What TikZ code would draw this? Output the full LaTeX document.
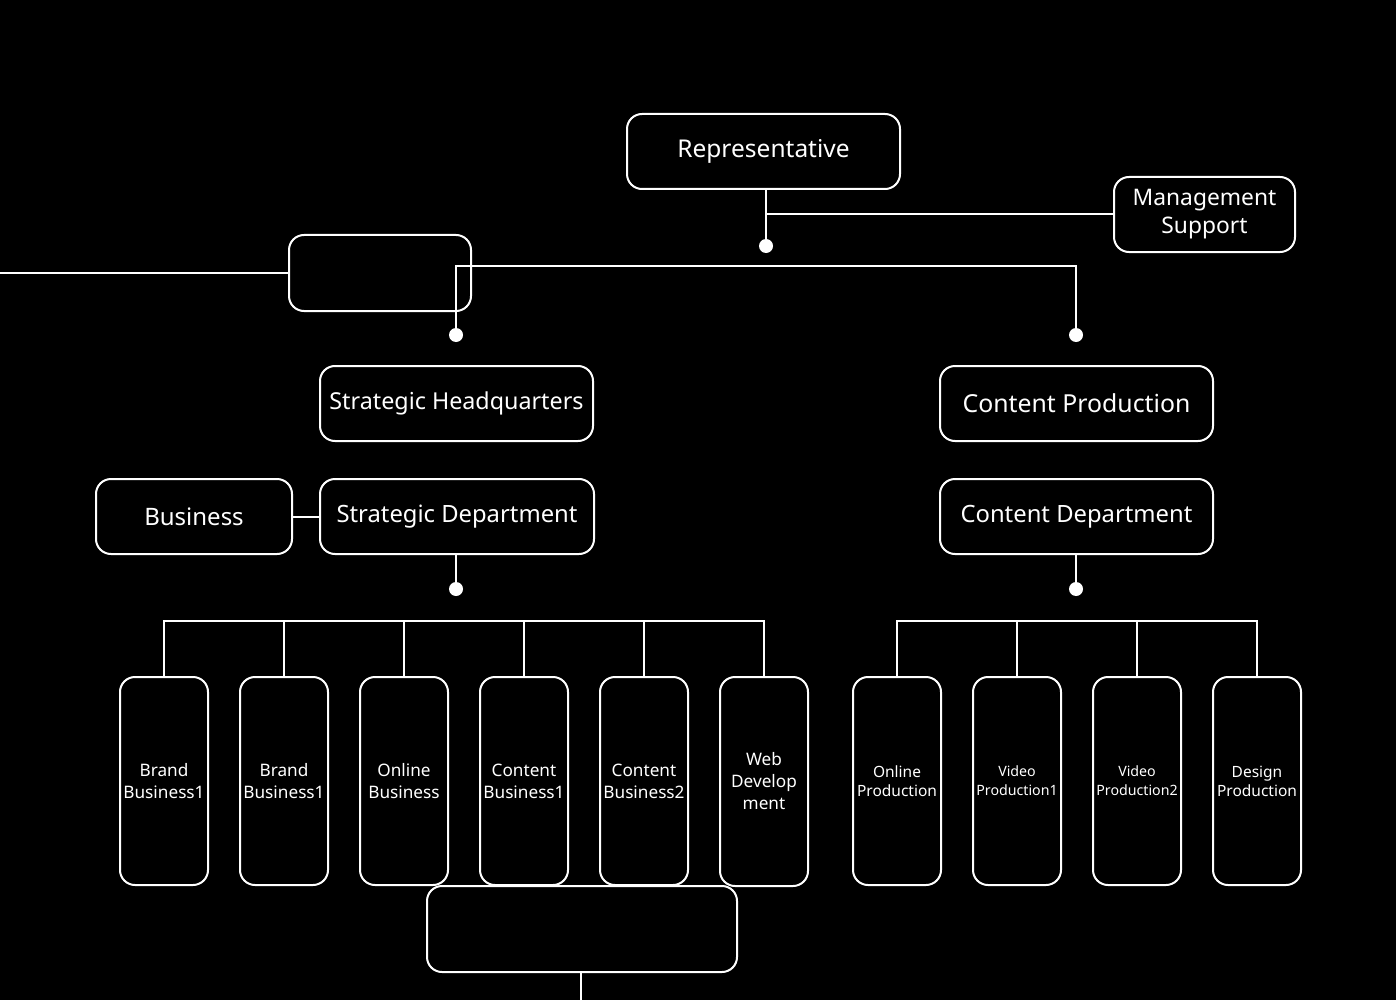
\documentclass[tikz,border=0pt]{standalone}
\usepackage{fontspec}
\setmainfont{Noto Sans}
\begin{document}
\begin{tikzpicture}[x=1pt,y=-1pt,
  box/.style={draw=white,line width=2pt,fill=black,rounded corners=15pt,text=white,inner sep=0pt,align=center},
  bigbox/.style={box,minimum width=273pt,minimum height=75pt,font=\fontsize{23.8}{28}\selectfont},
  tallbox/.style={box,minimum width=88pt,minimum height=208pt,font=\fontsize{17.2}{22}\selectfont},
  rbox/.style={box,minimum width=88pt,minimum height=208pt,font=\fontsize{15}{19}\selectfont},
  wire/.style={draw=white,line width=2pt},
  dot/.style={fill=white}]
\useasboundingbox[fill=black] (0,0) rectangle (1396,1000);

% top
\node[bigbox,font=\fontsize{24.5}{28}\selectfont] (rep) at (763.5,151.5) {Representative};
\node[bigbox,minimum width=181pt,font=\fontsize{22.8}{28}\selectfont] (ms) at (1204.5,214.5) {Management\\Support};
\node[box,minimum width=182pt,minimum height=76pt] (blank1) at (380,273) {};

\coordinate (d1) at (766,246);
\coordinate (lft) at (0,273);
\coordinate (bar) at (766,266);
\coordinate (d2) at (456,335);
\coordinate (d3) at (1076,335);

\draw[wire] (d1 |- rep.south) -- (d1);
\draw[wire] (d1 |- ms.west) -- (ms.west);
\draw[wire] (lft) -- (blank1.west);
\draw[wire] (d2) |- (bar) -| (d3);
\fill[dot] (d1) circle (7);
\fill[dot] (d2) circle (7);
\fill[dot] (d3) circle (7);

% second level
\node[bigbox,font=\fontsize{23.3}{28}\selectfont] (shq) at (456.5,403.5) {Strategic Headquarters};
\node[bigbox,font=\fontsize{24.8}{28}\selectfont] (cp) at (1076.5,403.5) {Content Production};
\node[bigbox,minimum width=196pt,font=\fontsize{24}{28}\selectfont] (bus) at (194,516.5) {Business};
\node[bigbox,minimum width=274pt] (sd) at (457,516.5) {Strategic Department};
\node[bigbox] (cd) at (1076.5,516.5) {Content Department};
\draw[wire] (bus.east) -- (sd.west);

\coordinate (d4) at (456,589);
\coordinate (d5) at (1076,589);
\draw[wire] (d4 |- sd.south) -- (d4);
\draw[wire] (d5 |- cd.south) -- (d5);
\fill[dot] (d4) circle (7);
\fill[dot] (d5) circle (7);

% left team boxes
\node[tallbox] (b1) at (164,781) {Brand\\Business1};
\node[tallbox] (b2) at (284,781) {Brand\\Business1};
\node[tallbox] (b3) at (404,781) {Online\\Business};
\node[tallbox] (b4) at (524,781) {Content\\Business1};
\node[tallbox] (b5) at (644,781) {Content\\Business2};
\node[tallbox,minimum height=209pt] (b6) at (764,781.5) {Web\\Develop\\ment};

\coordinate (row) at (0,621);
\draw[wire] (b1.north) -- (b1.north |- row) -- (b6.north |- row) -- (b6.north);
\foreach \n in {b2,b3,b4,b5} \draw[wire] (\n.north) -- (\n.north |- row);

% right team boxes
\node[rbox,font=\fontsize{15.5}{19}\selectfont] (c1) at (897,781) {Online\\Production};
\node[rbox,font=\fontsize{14.2}{19}\selectfont] (c2) at (1017,781) {Video\\Production1};
\node[rbox,font=\fontsize{14.2}{19}\selectfont] (c3) at (1137,781) {Video\\Production2};
\node[rbox,font=\fontsize{15.5}{19}\selectfont] (c4) at (1257,781) {Design\\Production};
\draw[wire] (c1.north) -- (c1.north |- row) -- (c4.north |- row) -- (c4.north);
\foreach \n in {c2,c3} \draw[wire] (\n.north) -- (\n.north |- row);

% bottom blank
\node[box,minimum width=310pt,minimum height=86pt] (blank2) at (582,929) {};
\coordinate (bot) at (581,1000);
\draw[wire] (bot |- blank2.south) -- (bot);
\end{tikzpicture}
\end{document}
